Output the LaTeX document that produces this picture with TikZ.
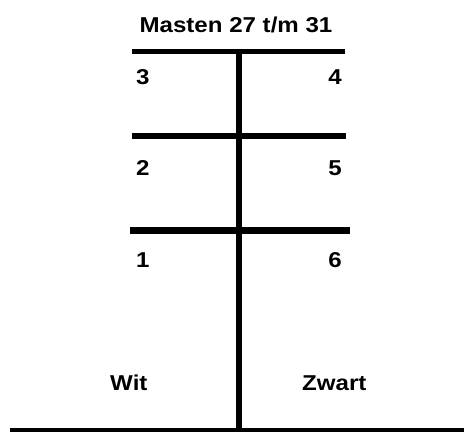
\documentclass[tikz,border=0pt]{standalone}
\usepackage{fontspec}
\setmainfont{Liberation Sans}
\begin{document}
\begin{tikzpicture}[x=1pt,y=-1pt,
  lbl/.style={font=\fontsize{21.5}{25}\selectfont\bfseries, inner sep=0pt, xscale=1.12},
  arm/.style={line width=5pt, line cap=butt},
  pole/.style={line width=6pt}]
\useasboundingbox (0,0) rectangle (464,432);
% pole
\coordinate (ptop) at (239,49);
\coordinate (pbot) at (239,432);
\draw[pole] (ptop) -- (pbot);
% ground
\coordinate (gl) at (10,430);
\coordinate (gr) at (464,430);
\draw[line width=3.5pt] (gl) -- (gr);
% crossarms
\coordinate (a1l) at (132,51.5); \coordinate (a1r) at (345,51.5);
\coordinate (a2l) at (132,136); \coordinate (a2r) at (346,136);
\coordinate (a3l) at (130,230.5); \coordinate (a3r) at (350,230.5);
\draw[arm] (a1l) -- (a1r);
\draw[arm,line width=5.5pt] (a2l) -- (a2r);
\draw[arm,line width=7pt] (a3l) -- (a3r);
% title
\node[lbl, anchor=base] (title) at (236,32) {Masten 27 t/m 31};
% numbers
\node[lbl, anchor=base west] (n3) at (136,84) {3};
\node[lbl, anchor=base east] (n4) at (342,84) {4};
\node[lbl, anchor=base west] (n2) at (136,175) {2};
\node[lbl, anchor=base east] (n5) at (342,175) {5};
\node[lbl, anchor=base west] (n1) at (136,267) {1};
\node[lbl, anchor=base east] (n6) at (342,267) {6};
\node[lbl, anchor=base west] (wit) at (110,390) {Wit};
\node[lbl, anchor=base west] (zwart) at (302,390) {Zwart};
\end{tikzpicture}
\end{document}
